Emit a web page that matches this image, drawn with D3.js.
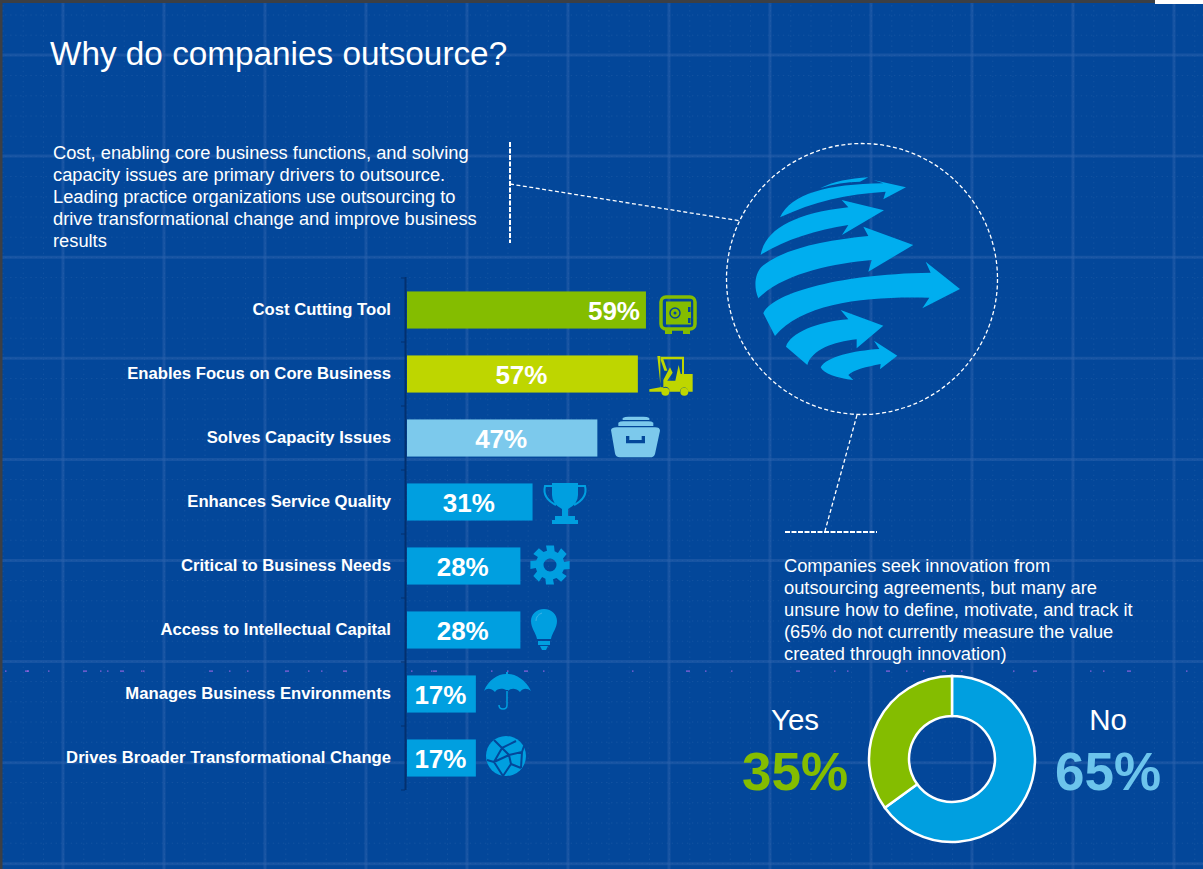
<!DOCTYPE html>
<html><head><meta charset="utf-8">
<script src="https://cdn.jsdelivr.net/npm/d3@7/dist/d3.min.js"></script>
<style>html,body{margin:0;padding:0;background:#03479a;overflow:hidden}svg{display:block}text{font-family:"Liberation Sans",Arial,sans-serif}</style>
</head><body><div id="chart"></div>
<script>
const titleText = "Why do companies outsource?";
const introLines = ["Cost, enabling core business functions, and solving","capacity issues are primary drivers to outsource.","Leading practice organizations use outsourcing to","drive transformational change and improve business","results"];
const innovationLines = ["Companies seek innovation from","outsourcing agreements, but many are","unsure how to define, motivate, and track it","(65% do not currently measure the value","created through innovation)"];
const categories = ["Cost Cutting Tool","Enables Focus on Core Business","Solves Capacity Issues","Enhances Service Quality","Critical to Business Needs","Access to Intellectual Capital","Manages Business Environments","Drives Broader Transformational Change"];
const values = [59,57,47,31,28,28,17,17];
const barColors = ["#84bd00","#bed600","#7cc9ec","#009fe0","#009fe0","#009fe0","#009fe0","#009fe0"];
const iconNames = ["safe","forklift","cabinet","trophy","gear","bulb","umbrella","web"];
const donutLabels = ["No","Yes"];
const donutValues = [65,35];
const donutColors = ["#009fe0","#84bd00"];
const speckX = [5,25,27,48,83,100,107,120,141,143,209,229,247,285,308,321,343,411,431,433,491,507,524,543,632,686,705,731,796,834,847,886,906,923,942,961,1013,1033,1090,1103,1127,1186,1213];

const W=1203,H=869,BG="#03479a";
const svg=d3.select("#chart").append("svg").attr("width",W).attr("height",H);
svg.append("rect").attr("width",W).attr("height",H).attr("fill",BG);

// blueprint grid
const grid=svg.append("g");
const minorX=d3.range(3,W,20.2), minorY=d3.range(15,H,20.2);
grid.selectAll(".mx").data(minorX).join("line").attr("x1",d=>d).attr("x2",d=>d).attr("y1",0).attr("y2",H)
  .attr("stroke","#3a70b4").attr("stroke-opacity",.3).attr("stroke-width",1).attr("stroke-dasharray","1.5 3.55");
grid.selectAll(".my").data(minorY).join("line").attr("y1",d=>d).attr("y2",d=>d).attr("x1",0).attr("x2",W)
  .attr("stroke","#3a70b4").attr("stroke-opacity",.3).attr("stroke-width",1).attr("stroke-dasharray","1.5 3.55");
const majorX=d3.range(63,W,101), majorY=d3.range(55,H,101.1);
grid.selectAll(".Mx").data(majorX).join("line").attr("x1",d=>d).attr("x2",d=>d).attr("y1",0).attr("y2",H).attr("stroke","#2c62ab").attr("stroke-width",3).attr("stroke-opacity",.5);
grid.selectAll(".My").data(majorY).join("line").attr("y1",d=>d).attr("y2",d=>d).attr("x1",0).attr("x2",W).attr("stroke","#2c62ab").attr("stroke-width",3).attr("stroke-opacity",.5);
grid.selectAll(".sp").data(speckX.filter(v=>v<W)).join("rect").attr("x",d=>d).attr("y",670.5).attr("width",(d,i)=>i%3==1?4:1.5).attr("height",1.2).attr("fill","#b06cf0").attr("fill-opacity",.8);

// frame
svg.append("rect").attr("width",W).attr("height",3).attr("fill","#3c3f44");
svg.append("rect").attr("width",2.5).attr("height",H).attr("fill","#3c3f44");
svg.append("rect").attr("x",1155).attr("width",48).attr("height",4).attr("fill","#fff");

// title + text
svg.append("text").attr("x",50).attr("y",65).attr("fill","#fff").attr("font-size",33.3).text(titleText);
const tl=(lines,x,y)=>svg.append("g").selectAll("text").data(lines).join("text").attr("x",x).attr("y",(d,i)=>y+i*22).attr("fill","#fff").attr("font-size",18.3).text(d=>d);
tl(introLines,53,159); tl(innovationLines,784,572);

// bars
const x=d3.scaleLinear().domain([0,100]).range([407,812]);
const y=d3.scaleBand().domain(categories).range([278,790]).paddingInner(.42).paddingOuter(.21);
svg.append("line").attr("x1",405.5).attr("x2",405.5).attr("y1",277).attr("y2",790).attr("stroke","#03306f").attr("stroke-width",2);
svg.append("g").selectAll("line").data(d3.range(0,9).map(i=>278+i*64)).join("line").attr("x1",401).attr("x2",405).attr("y1",d=>d).attr("y2",d=>d).attr("stroke","#03306f");
svg.append("g").selectAll("rect").data(categories).join("rect").attr("x",x(0)).attr("y",d=>y(d)).attr("height",y.bandwidth())
  .attr("width",(d,i)=>x(values[i])-x(0)).attr("fill",(d,i)=>barColors[i]);
svg.append("g").selectAll("text").data(categories).join("text").attr("x",391).attr("y",d=>y(d)+y.bandwidth()/2+4.7)
  .attr("text-anchor","end").attr("fill","#fff").attr("font-weight","bold").attr("font-size",16.67).text(d=>d);
svg.append("g").selectAll("text").data(categories).join("text")
  .attr("x",(d,i)=>i==0?640:(x(0)+x(values[i]))/2-1).attr("y",d=>y(d)+y.bandwidth()/2+9.5)
  .attr("text-anchor",(d,i)=>i==0?"end":"middle").attr("fill","#fff").attr("font-weight","bold").attr("font-size",26).text((d,i)=>values[i]+"%");

// icons
const icons={
 safe(g,c){g.append("rect").attr("x",-17).attr("y",-18).attr("width",34).attr("height",32).attr("rx",5).attr("fill","none").attr("stroke",c).attr("stroke-width",3.5);
  g.append("rect").attr("x",-12).attr("y",-13.5).attr("width",25).attr("height",23).attr("fill",c);
  g.append("circle").attr("cx",-3).attr("cy",-2).attr("r",5).attr("fill","none").attr("stroke",BG).attr("stroke-width",1.5);
  g.append("circle").attr("cx",-3).attr("cy",-2).attr("r",1.5).attr("fill",BG);
  g.append("rect").attr("x",10).attr("y",-8).attr("width",2.5).attr("height",5).attr("fill",BG);
  g.append("rect").attr("x",10).attr("y",3).attr("width",2.5).attr("height",5).attr("fill",BG);
  g.append("rect").attr("x",-13).attr("y",15).attr("width",7).attr("height",4).attr("fill",c);
  g.append("rect").attr("x",5).attr("y",15).attr("width",7).attr("height",4).attr("fill",c);},
 forklift(g,c){const f=g.append("g").attr("transform","translate(-31,-95) scale(.3333)").attr("fill",c);
  f.append("path").attr("d","M52,228H61V322L28,328V335H70V322H62Z");
  f.append("path").attr("d","M62,230H132V282H126V238H70L82,272H73L62,240Z");
  f.append("path").attr("d","M70,300L90,262L98,278L82,302H106L116,255L122,282H158V335H145A12,12 0 0 0 120,335H88A12,12 0 0 0 70,322Z");
  f.append("circle").attr("cx",76).attr("cy",335).attr("r",12);
  f.append("circle").attr("cx",133).attr("cy",335).attr("r",12);},
 cabinet(g,c){const f=g.append("g").attr("transform","translate(-35,-28) scale(.3333)").attr("fill",c);
  f.append("path").attr("d","M68,24Q75,20 85,20H130Q142,20 148,24V30H68Z");
  f.append("path").attr("d","M55,38Q60,34 70,34H145Q155,34 160,38V48H55Z");
  f.append("path").attr("fill-rule","evenodd").attr("d","M33,60Q35,52 50,52H165Q180,52 180,62L165,132Q162,142 150,142H60Q47,142 45,130ZM78,78V100H135V78H125V90H88V78Z");},
 trophy(g,c){g.append("path").attr("fill",c).attr("d","M-13,-20H13V-8Q13,1 3,6V13H10V17H13V21H-13V17H-10V13H-3V6Q-13,1 -13,-8Z");
  g.append("path").attr("fill","none").attr("stroke",c).attr("stroke-width",2).attr("d","M-13,-17H-20Q-23,-5 -9,2M13,-17H20Q23,-5 9,2");},
 gear(g,c){const n=8,pts=[];for(let i=0;i<n;i++){const a=i/n*2*Math.PI;
   [[-.2,20],[.2,20],[.32,14.5],[.58,14.5]].forEach(([o,r])=>pts.push([r*Math.sin(a+o),-r*Math.cos(a+o)]));}
  g.append("path").attr("fill",c).attr("fill-rule","evenodd").attr("d","M"+pts.map(p=>p.map(v=>v.toFixed(1)).join(",")).join("L")+"Z M6.5,0A6.5,6.5 0 1 0 -6.5,0A6.5,6.5 0 1 0 6.5,0Z");},
 bulb(g,c){g.append("path").attr("fill",c).attr("d","M0,-21C8,-21 13,-15 13,-9C13,-2 8,3 7,9H-7C-8,3 -13,-2 -13,-9C-13,-15 -8,-21 0,-21Z");
  g.append("path").attr("fill",c).attr("d","M-6,11H6V15H-6ZM-4,16H4L2,20H-2Z");
  g.append("path").attr("fill","none").attr("stroke","#3fb4e8").attr("stroke-width",1).attr("d","M-8,-9Q-8,-15 -2,-17");},
 umbrella(g,c){g.append("path").attr("fill",c).attr("d","M-23,0C-19,-11 -9,-17 -1,-17V-19H1V-17C9,-17 19,-11 24,0C20,-3 16,-3 13,1C9,-3 4,-3 1,0V-1H-1C-4,-3 -10,-3 -12,1C-16,-3 -20,-3 -23,0Z");
  g.append("path").attr("fill","none").attr("stroke",c).attr("stroke-width",1.5).attr("d","M0,0V14Q0,18 -4,18Q-8,18 -8,14");},
 web(g,c){g.append("circle").attr("r",20).attr("fill",c);
  g.append("path").attr("fill","none").attr("stroke",BG).attr("stroke-width",2).attr("d","M-12,-16L-4,-8L10,-15M-4,-8L-12,6L-3,20M-12,6L-19,4M-4,-8L3,-1L-12,6M3,-1L16,-4L18,-10M3,-1L5,8L-3,20M5,8L15,12M16,-4L15,12");}
};
const iconPos=[[678,315],[671,375],[635,438],[565,503],[550,565],[544,630],[507,691],[506,756]];
const iconCol=["#84bd00","#bed600","#7cc9ec","#009fe0","#009fe0","#009fe0","#009fe0","#009fe0"];
iconNames.forEach((n,i)=>{const g=svg.append("g").attr("transform",`translate(${iconPos[i]})`);icons[n](g,iconCol[i]);});

// globe callout
const dash={stroke:"#fff","stroke-width":1.3,"stroke-dasharray":"4 2.5",fill:"none"};
const st=s=>{Object.entries(dash).forEach(([k,v])=>s.attr(k,v));return s;};
st(svg.append("circle").attr("cx",862).attr("cy",279).attr("r",135.5));
st(svg.append("path").attr("d","M510,184L741,221M857,415L825,531"));
svg.append("line").attr("x1",510).attr("x2",510).attr("y1",142).attr("y2",243).attr("stroke","#fff").attr("stroke-width",2).attr("stroke-dasharray","5 1.5");
svg.append("line").attr("x1",785).attr("x2",877).attr("y1",532).attr("y2",532).attr("stroke","#fff").attr("stroke-width",2).attr("stroke-dasharray","5 1.5");
const globe=svg.append("g").attr("transform","translate(720,130) scale(.3333)").attr("fill","#00aeef");
["M180,262C215,190 320,163 490,160L460,150L558,172L490,208L497,185C380,192 280,215 180,262Z",
 "M300,175C340,155 390,145 445,142L420,155C380,155 340,162 300,175Z",
 "M122,375C135,300 220,250 385,232L365,210L492,241L366,315L385,285C290,300 190,330 122,375Z",
 "M115,505C100,470 105,430 125,410C190,355 320,330 445,318L430,290L580,345L445,425L455,390C340,400 190,430 115,505Z",
 "M165,618L130,550C150,495 340,432 632,428L617,395L720,477L607,535L628,503C450,498 250,515 165,618Z",
 "M262,705L198,650C210,610 290,575 385,568L362,540L490,587L410,655L410,628C340,635 275,660 262,705Z",
 "M400,750C350,745 310,730 302,712C320,680 400,662 478,657L462,632L532,677L480,718L482,702C440,710 400,720 385,735Z"
].forEach(d=>globe.append("path").attr("d",d));

// donut
const pie=d3.pie().sort(null)(donutValues);
const arc=d3.arc().innerRadius(43).outerRadius(83);
svg.append("g").attr("transform","translate(952,759)").selectAll("path").data(pie).join("path").attr("d",arc)
  .attr("fill",(d,i)=>donutColors[i]).attr("stroke","#fff").attr("stroke-width",2.5);
svg.append("text").attr("x",795).attr("y",730).attr("text-anchor","middle").attr("fill","#fff").attr("font-size",29.5).text(donutLabels[1]);
svg.append("text").attr("x",1108).attr("y",730).attr("text-anchor","middle").attr("fill","#fff").attr("font-size",29.5).text(donutLabels[0]);
svg.append("text").attr("x",795).attr("y",790).attr("text-anchor","middle").attr("fill","#84bd00").attr("font-weight","bold").attr("font-size",53).text(donutValues[1]+"%");
svg.append("text").attr("x",1108).attr("y",790).attr("text-anchor","middle").attr("fill","#6cc4ec").attr("font-weight","bold").attr("font-size",53).text(donutValues[0]+"%");
</script></body></html>
